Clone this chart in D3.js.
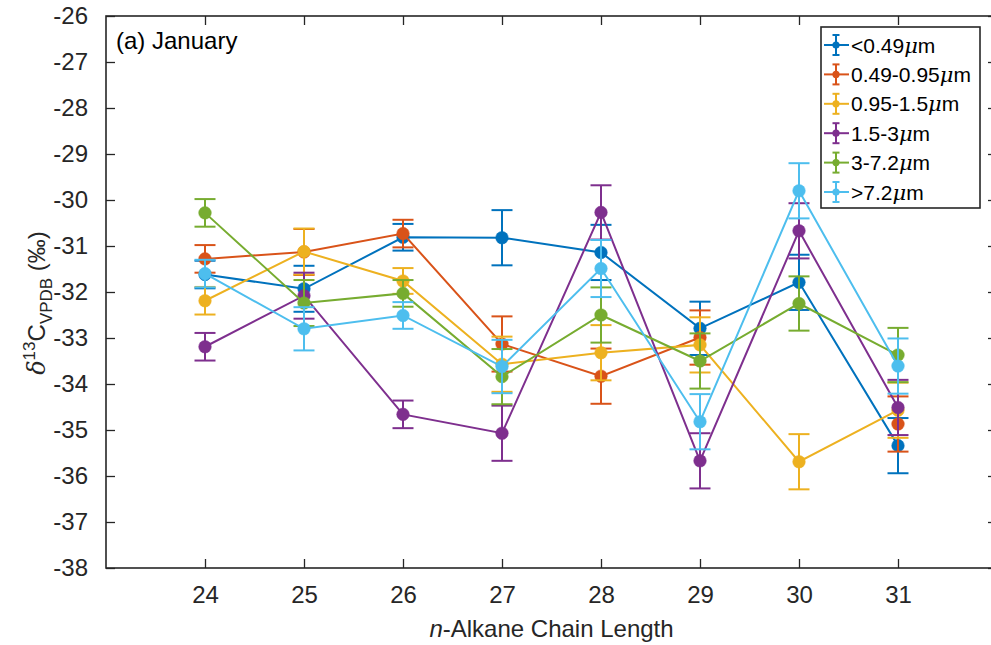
<!DOCTYPE html>
<html>
<head>
<meta charset="utf-8">
<script src="https://cdn.jsdelivr.net/npm/d3@7"></script>
<style>
  html, body { margin: 0; padding: 0; background: #fff; }
  svg { display: block; font-family: "Liberation Sans", Arial, Helvetica, sans-serif; }
</style>
</head>
<body>
<svg id="chart" width="991" height="645"></svg>
<script>
// n-alkane chain lengths on the x axis
const chainLength = [24, 25, 26, 27, 28, 29, 30, 31];

// particle size classes
const sizeClasses = ["<0.49", "0.49-0.95", "0.95-1.5", "1.5-3", "3-7.2", ">7.2"];

// δ13C (‰ VPDB) means per size class; null = not measured
const d13C_lt049   = [-31.62, -31.93, -30.81, -30.82, -31.14, -32.79, -31.79, -35.34];
const d13C_049_095 = [-31.28, -31.13, -30.73, -33.13, -33.83, -32.99, null,   -34.87];
const d13C_095_15  = [-32.19, -31.12, -31.76, -33.57, -33.32, -33.15, -35.69, -34.57];
const d13C_15_3    = [-33.19, -32.08, -34.66, -35.07, -30.27, -35.67, -30.67, -34.51];
const d13C_3_72    = [-30.28, -32.24, -32.03, -33.84, -32.50, -33.50, -32.25, -33.37];
const d13C_gt72    = [-31.60, -32.80, -32.51, -33.62, -31.49, -34.82, -29.80, -33.61];

// standard deviations
const sd_lt049   = [0.30, 0.50, 0.29, 0.60, 0.60, 0.58, 0.60, 0.60];
const sd_049_095 = [0.30, 0.50, 0.30, 0.60, 0.60, 0.59, null, 0.60];
const sd_095_15  = [0.30, 0.50, 0.28, 0.60, 0.60, 0.60, 0.60, 0.60];
const sd_15_3    = [0.30, 0.50, 0.30, 0.60, 0.59, 0.60, 0.60, 0.60];
const sd_3_72    = [0.30, 0.50, 0.29, 0.60, 0.60, 0.60, 0.59, 0.59];
const sd_gt72    = [0.30, 0.47, 0.29, 0.58, 0.62, 0.60, 0.60, 0.60];

const yTicks = [-38, -37, -36, -35, -34, -33, -32, -31, -30, -29, -28, -27, -26];

const colors = ["#0072BD", "#D95319", "#EDB120", "#7E2F8E", "#77AC30", "#4DBEEE"];

const seriesValues = [d13C_lt049, d13C_049_095, d13C_095_15, d13C_15_3, d13C_3_72, d13C_gt72];
const seriesErrors = [sd_lt049, sd_049_095, sd_095_15, sd_15_3, sd_3_72, sd_gt72];

const series = sizeClasses.map((name, i) => ({
  name,
  color: colors[i],
  points: chainLength.map((c, j) => ({ x: c, y: seriesValues[i][j], e: seriesErrors[i][j] }))
}));

const svg = d3.select("#chart");
const m = { left: 106, right: 997, top: 16, bottom: 568 };
const axisColor = "#262626";

const x = d3.scaleLinear().domain([23, 32]).range([m.left, m.right]);
const y = d3.scaleLinear().domain([-38, -26]).range([m.bottom, m.top]);

// plot area clip
svg.append("defs").append("clipPath").attr("id", "plotClip")
  .append("rect").attr("x", m.left).attr("y", m.top)
  .attr("width", m.right - m.left).attr("height", m.bottom - m.top);

const tickLen = 9;
const fmt = d => String(d);

// axes with inward ticks on all four sides
const gx = svg.append("g").attr("transform", `translate(0,${m.bottom})`)
  .call(d3.axisBottom(x).tickValues(chainLength).tickFormat(fmt).tickSizeInner(-tickLen).tickSizeOuter(0).tickPadding(18));
const gxTop = svg.append("g").attr("transform", `translate(0,${m.top})`)
  .call(d3.axisTop(x).tickValues(chainLength).tickFormat("").tickSizeInner(-tickLen).tickSizeOuter(0));
const gy = svg.append("g").attr("transform", `translate(${m.left},0)`)
  .call(d3.axisLeft(y).tickValues(yTicks).tickFormat(fmt).tickSizeInner(-tickLen).tickSizeOuter(0).tickPadding(18));
const gyRight = svg.append("g").attr("transform", `translate(${m.right},0)`)
  .call(d3.axisRight(y).tickValues(yTicks).tickFormat("").tickSizeInner(-tickLen).tickSizeOuter(0));

[gx, gxTop, gy, gyRight].forEach(g => {
  g.select(".domain").remove();
  g.selectAll(".tick line").attr("stroke", axisColor).attr("stroke-width", 1.3);
  g.selectAll("text").attr("fill", axisColor).attr("font-size", 24);
});

// axes box
svg.append("rect")
  .attr("x", m.left).attr("y", m.top).attr("width", m.right - m.left).attr("height", m.bottom - m.top)
  .attr("fill", "none").attr("stroke", axisColor).attr("stroke-width", 1.6);

// data: line, error bars, markers for each size class
const plot = svg.append("g").attr("clip-path", "url(#plotClip)");
const line = d3.line().defined(d => d.y !== null).x(d => x(d.x)).y(d => y(d.y));
const capHalf = 10.5;

series.forEach(s => {
  const g = plot.append("g");
  const pts = s.points.filter(d => d.y !== null);
  g.append("path").datum(s.points)
    .attr("d", line).attr("fill", "none").attr("stroke", s.color).attr("stroke-width", 2);
  const eb = g.selectAll(".eb").data(pts).join("g").attr("stroke", s.color).attr("stroke-width", 2);
  eb.append("line").attr("x1", d => x(d.x)).attr("x2", d => x(d.x))
    .attr("y1", d => y(d.y - d.e)).attr("y2", d => y(d.y + d.e));
  eb.append("line").attr("x1", d => x(d.x) - capHalf).attr("x2", d => x(d.x) + capHalf)
    .attr("y1", d => y(d.y + d.e)).attr("y2", d => y(d.y + d.e));
  eb.append("line").attr("x1", d => x(d.x) - capHalf).attr("x2", d => x(d.x) + capHalf)
    .attr("y1", d => y(d.y - d.e)).attr("y2", d => y(d.y - d.e));
  g.selectAll("circle").data(pts).join("circle")
    .attr("cx", d => x(d.x)).attr("cy", d => y(d.y)).attr("r", 6.3)
    .attr("fill", s.color).attr("stroke", s.color).attr("stroke-width", 0.5);
});

// panel title
svg.append("text").attr("x", 116).attr("y", 49).attr("font-size", 24).attr("fill", "#000")
  .text("(a) January");

// x axis label
const xl = svg.append("text").attr("x", (m.left + m.right) / 2).attr("y", 637)
  .attr("text-anchor", "middle").attr("font-size", 24).attr("fill", axisColor);
xl.append("tspan").attr("font-style", "italic").text("n");
xl.append("tspan").text("-Alkane Chain Length");

// y axis label
const yl = svg.append("text")
  .attr("transform", `translate(45,303) rotate(-90)`)
  .attr("text-anchor", "middle").attr("font-size", 24).attr("fill", axisColor);
yl.append("tspan").attr("font-style", "italic").attr("font-family", "'DejaVu Serif', serif").text("δ");
yl.append("tspan").attr("font-size", 17).attr("dy", -10).text("13");
yl.append("tspan").attr("dy", 10).text("C");
yl.append("tspan").attr("font-size", 17).attr("dy", 7).text("VPDB");
yl.append("tspan").attr("dy", -7).text(" (‰)");

// legend
const lg = svg.append("g");
const lgX = 821, lgY = 27, lgW = 159, lgH = 181, rowH = 29.4, firstRow = 45;
lg.append("rect").attr("x", lgX).attr("y", lgY).attr("width", lgW).attr("height", lgH)
  .attr("fill", "#fff").attr("stroke", axisColor).attr("stroke-width", 1.6);
series.forEach((s, i) => {
  const cy = firstRow + i * rowH;
  const cx = 836;
  const row = lg.append("g").attr("stroke", s.color).attr("stroke-width", 2);
  row.append("line").attr("x1", 824).attr("x2", 849).attr("y1", cy).attr("y2", cy);
  row.append("line").attr("x1", cx).attr("x2", cx).attr("y1", cy - 10).attr("y2", cy + 10);
  row.append("line").attr("x1", cx - 3.5).attr("x2", cx + 3.5).attr("y1", cy - 10).attr("y2", cy - 10);
  row.append("line").attr("x1", cx - 3.5).attr("x2", cx + 3.5).attr("y1", cy + 10).attr("y2", cy + 10);
  row.append("circle").attr("cx", cx).attr("cy", cy).attr("r", 3.6).attr("fill", s.color).attr("stroke", "none");
  const t = lg.append("text").attr("x", 851).attr("y", cy + 7.5).attr("font-size", 21).attr("fill", "#000");
  t.append("tspan").text(s.name);
  t.append("tspan").attr("font-style", "italic").attr("font-family", "'DejaVu Serif', serif").text("μ");
  t.append("tspan").text("m");
});
</script>
</body>
</html>
